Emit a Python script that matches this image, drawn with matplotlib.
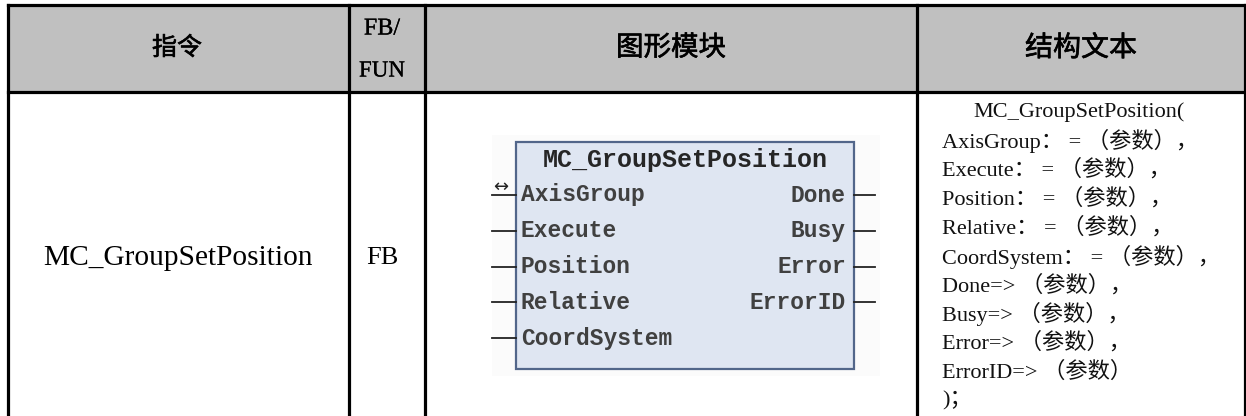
import matplotlib
matplotlib.use("Agg")
import matplotlib.pyplot as plt
from matplotlib.patches import Rectangle
import matplotlib.patheffects as pe

# ---- content ----
headers = ["指令", "FB/\nFUN", "图形模块", "结构文本"]
instruction = "MC_GroupSetPosition"
fb_kind = "FB"
block_title = "MC_GroupSetPosition"
block_inputs = ["AxisGroup", "Execute", "Position", "Relative", "CoordSystem"]
block_outputs = ["Done", "Busy", "Error", "ErrorID"]
st_lines = [
    "MC_GroupSetPosition(",
    "AxisGroup： = （参数），",
    "Execute： = （参数），",
    "Position： = （参数），",
    "Relative： = （参数），",
    "CoordSystem： = （参数），",
    "Done=> （参数），",
    "Busy=> （参数），",
    "Error=> （参数），",
    "ErrorID=> （参数）",
    ")；",
]

W, H = 1246, 416
fig = plt.figure(figsize=(W / 100, H / 100), dpi=100)
ax = fig.add_axes([0, 0, 1, 1])
ax.set_xlim(0, W)
ax.set_ylim(H, 0)
ax.axis("off")
renderer = fig.canvas.get_renderer()

CJK = ["Noto Sans CJK SC", "DejaVu Sans"]
SERIF = ["Liberation Serif", "Noto Sans CJK SC", "DejaVu Sans"]
MONO = ["Liberation Mono", "DejaVu Sans Mono"]
thick = [pe.withStroke(linewidth=0.45, foreground="black")]


def fit(t, width):
    bb = t.get_window_extent(renderer)
    t.set_fontsize(t.get_fontsize() * width / bb.width)
    return t


# ---- table frame ----
col_x = [7.5, 349, 425, 917, 1244.5]
top, head_bot = 5, 92
ax.add_patch(Rectangle((col_x[0], top), col_x[-1] - col_x[0], head_bot - top,
                       facecolor="#c0c0c0", edgecolor="none", zorder=0))
lw = 2.3
ax.plot([col_x[0], col_x[-1]], [top, top], color="black", lw=lw, solid_capstyle="projecting")
ax.plot([col_x[0], col_x[-1]], [head_bot, head_bot], color="black", lw=lw, solid_capstyle="projecting")
for x in col_x:
    ax.plot([x, x], [top, H + 2], color="black", lw=lw, solid_capstyle="projecting")

# ---- header ----
t = ax.text(177, 48, headers[0], ha="center", va="center", family=CJK,
            fontsize=17, path_effects=thick)
fit(t, 50)
fbfun = headers[1].split("\n")
t2 = ax.text(382, 71, fbfun[1], ha="center", va="center", family=SERIF, fontsize=16,
             path_effects=[pe.withStroke(linewidth=0.2, foreground="black")])
fit(t2, 46)
hdr_fs = t2.get_fontsize()
ax.text(382, 29, fbfun[0], ha="center", va="center", family=SERIF, fontsize=hdr_fs * 1.05,
        path_effects=[pe.withStroke(linewidth=0.2, foreground="black")])
t = ax.text(671, 48, headers[2], ha="center", va="center", family=CJK,
            fontsize=18, path_effects=thick)
fit(t, 110)
t = ax.text(1081, 48, headers[3], ha="center", va="center", family=CJK,
            fontsize=18, path_effects=thick)
fit(t, 112)

# ---- body row ----
row_y = 258
t = ax.text(178, row_y, instruction, ha="center", va="center", family=SERIF, fontsize=17)
fit(t, 269)
ax.text(382, row_y, fb_kind, ha="center", va="center", family=SERIF, fontsize=t.get_fontsize() * 0.9)

# ---- function block drawing ----
bx0, bx1, by0, by1 = 516, 854, 142, 369
ax.add_patch(Rectangle((bx0 - 24, by0 - 7), (bx1 - bx0) + 50, (by1 - by0) + 14,
                       facecolor="#fbfbfb", edgecolor="none", zorder=1))
ax.add_patch(Rectangle((bx0, by0), bx1 - bx0, by1 - by0, facecolor="#dfe6f2",
                       edgecolor="#52668a", lw=1.6, zorder=2))
t = ax.text((bx0 + bx1) / 2 + 0.5, 160, block_title, ha="center", va="center",
            family=MONO, weight="bold", color="#262626", fontsize=17, zorder=3)
fit(t, 284)
in_y0, step = 195, 35.8
for i, name in enumerate(block_inputs):
    y = in_y0 + i * step
    ax.text(bx0 + 5, y, name, ha="left", va="center", family=MONO, weight="bold",
            color="#404040", fontsize=16.5, zorder=3)
    ax.plot([492, bx0], [y, y], color="#222222", lw=1.3, zorder=3)
ax.text(501, 187, "↔", ha="center", va="center", family=["DejaVu Sans"],
        fontsize=13, color="#222222", zorder=3)
for i, name in enumerate(block_outputs):
    y = in_y0 + i * step
    ax.text(bx1 - 8, y, name, ha="right", va="center", family=MONO, weight="bold",
            color="#404040", fontsize=16.5, zorder=3)
    ax.plot([bx1, 875], [y, y], color="#222222", lw=1.3, zorder=3)

# ---- structured text ----
st_y0, st_step = 112, 28.9
probe = ax.text(973, st_y0, st_lines[0], ha="left", va="center", family=SERIF, fontsize=15)
fit(probe, 212)
st_fs = probe.get_fontsize()
probe.remove()
for i, line in enumerate(st_lines):
    x = 973 if i == 0 else 942
    ax.text(x, st_y0 + i * st_step, line, ha="left", va="center", family=SERIF,
            fontsize=st_fs, color="#111111")

fig.savefig("out.png", dpi=100)
